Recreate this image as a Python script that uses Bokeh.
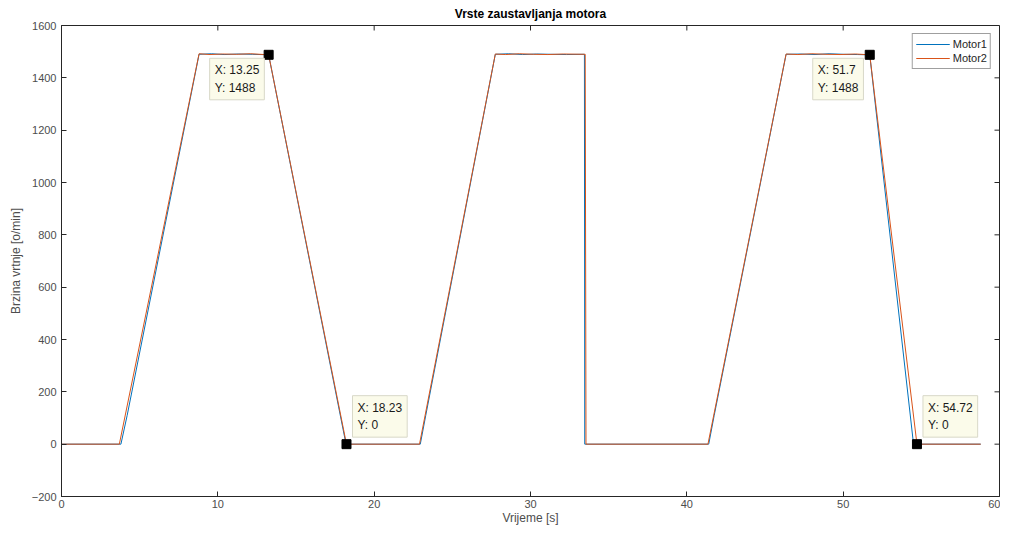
import math
from bokeh.plotting import figure
from bokeh.models import Range1d, FixedTicker, Label, Legend, LegendItem, ColumnDataSource
from bokeh.embed import file_html
from bokeh.resources import INLINE

# ---- data ----
t_motor1 = [0, 3.8, 4.2, 8.8, 9.6, 10.4, 11.3, 12.2, 13.25, 18.2, 22.95, 23.3, 27.75, 28.6,
            29.5, 30.4, 31.3, 32.3, 33.45, 33.47, 41.4, 41.75, 46.35, 47.3, 48.2, 49.1, 50.0,
            50.9, 51.7, 54.5, 58.8]
v_motor1 = [0, 0, 110, 1490, 1492, 1489, 1491, 1490, 1488, 0, 0, 110, 1490, 1492,
            1489, 1491, 1490, 1489, 1490, 0, 0, 110, 1490, 1491, 1489, 1492, 1490,
            1489, 1488, 0, 0]

t_motor2 = [0, 3.7, 8.8, 9.5, 10.3, 11.2, 12.1, 13.25, 18.23, 22.9, 27.75, 28.4,
            29.3, 30.2, 31.1, 32.1, 33.5, 33.55, 41.35, 46.35, 47.1, 48.0, 48.9, 49.8,
            50.8, 51.7, 54.72, 58.8]
v_motor2 = [0, 0, 1492, 1489, 1491, 1490, 1492, 1488, 0, 0, 1491, 1489,
            1492, 1490, 1489, 1491, 1490, 0, 0, 1491, 1489, 1492, 1490, 1489,
            1491, 1488, 0, 0]

tip_x = [13.25, 18.23, 51.7, 54.72]
tip_y = [1488, 0, 1488, 0]
tip_text = ["X: 13.25\nY: 1488", "X: 18.23\nY: 0", "X: 51.7\nY: 1488", "X: 54.72\nY: 0"]

x_ticks = [0, 10, 20, 30, 40, 50, 60]
y_ticks = [-200, 0, 200, 400, 600, 800, 1000, 1200, 1400, 1600]
x_lim = (0, 60)
y_lim = (-200, 1600)

FONT = "Liberation Sans"
AX = "#262626"
BLUE = "#0072BD"
ORANGE = "#D95319"

p = figure(width=1000, height=527, output_backend="svg", toolbar_location=None,
           x_range=Range1d(*x_lim), y_range=Range1d(*y_lim),
           title="Vrste zaustavljanja motora",
           min_border_left=61, min_border_right=1, min_border_bottom=28, min_border_top=0)
p.title.align = "center"
p.title.text_font = FONT
p.title.text_font_size = "12px"
p.title.text_font_style = "bold"
p.title.text_color = "#000000"
p.title.standoff = 9
p.grid.visible = False
p.outline_line_color = AX
p.outline_line_alpha = 1.0

for ax in (p.xaxis[0], p.yaxis[0]):
    ax.major_tick_in = 5
    ax.major_tick_out = 0
    ax.minor_tick_line_color = None
    ax.axis_line_color = AX
    ax.major_tick_line_color = AX
    ax.major_label_text_font = FONT
    ax.major_label_text_font_size = "11px"
    ax.major_label_text_color = "#4d4d4d"
    ax.axis_label_text_font = FONT
    ax.axis_label_text_font_size = "12px"
    ax.axis_label_text_font_style = "normal"
    ax.axis_label_text_color = "#4d4d4d"

p.xaxis[0].ticker = FixedTicker(ticks=x_ticks)
p.yaxis[0].ticker = FixedTicker(ticks=y_ticks)
p.xaxis[0].axis_label = "Vrijeme [s]"
p.yaxis[0].axis_label = "Brzina vrtnje [o/min]"
p.xaxis[0].major_label_standoff = 3
p.yaxis[0].major_label_standoff = 5
p.xaxis[0].axis_label_standoff = 0
p.yaxis[0].axis_label_standoff = 6

# mirrored inward ticks on the top and right edges of the box
p.ray(x=x_ticks, y=[y_lim[1]] * len(x_ticks), length=5, length_units="screen",
      angle=-math.pi / 2, line_color=AX, line_width=1)
p.ray(x=[x_lim[1]] * len(y_ticks), y=y_ticks, length=5, length_units="screen",
      angle=math.pi, line_color=AX, line_width=1)

s1 = ColumnDataSource(dict(t=t_motor1, v=v_motor1))
s2 = ColumnDataSource(dict(t=t_motor2, v=v_motor2))
r1 = p.line("t", "v", source=s1, line_color=BLUE, line_width=1)
r2 = p.line("t", "v", source=s2, line_color=ORANGE, line_width=1)

tips = ColumnDataSource(dict(x=tip_x, y=tip_y))
p.scatter("x", "y", source=tips, marker="square", size=9, color="black")

offsets = [(-59, -45), (6, 7), (-57, -45), (6, 7)]
for tx, ty, txt, (ox, oy) in zip(tip_x, tip_y, tip_text, offsets):
    p.add_layout(Label(x=tx, y=ty, x_offset=ox, y_offset=oy, text=txt,
                       text_font=FONT, text_font_size="12px", text_color="#1a1a1a",
                       text_line_height=1.25,
                       background_fill_color="#FBFBEA", background_fill_alpha=1.0,
                       border_line_color="#D8D8C8", padding=5))

legend = Legend(items=[LegendItem(label="Motor1", renderers=[r1]),
                       LegendItem(label="Motor2", renderers=[r2])],
                location="top_right", label_text_font=FONT, label_text_font_size="11px",
                label_text_color="#262626",
                glyph_width=34, glyph_height=14, label_height=14, spacing=0, padding=3,
                margin=8, border_line_color="#404040", label_standoff=3)
p.add_layout(legend)

open("out.html", "w").write(file_html(p, INLINE))
